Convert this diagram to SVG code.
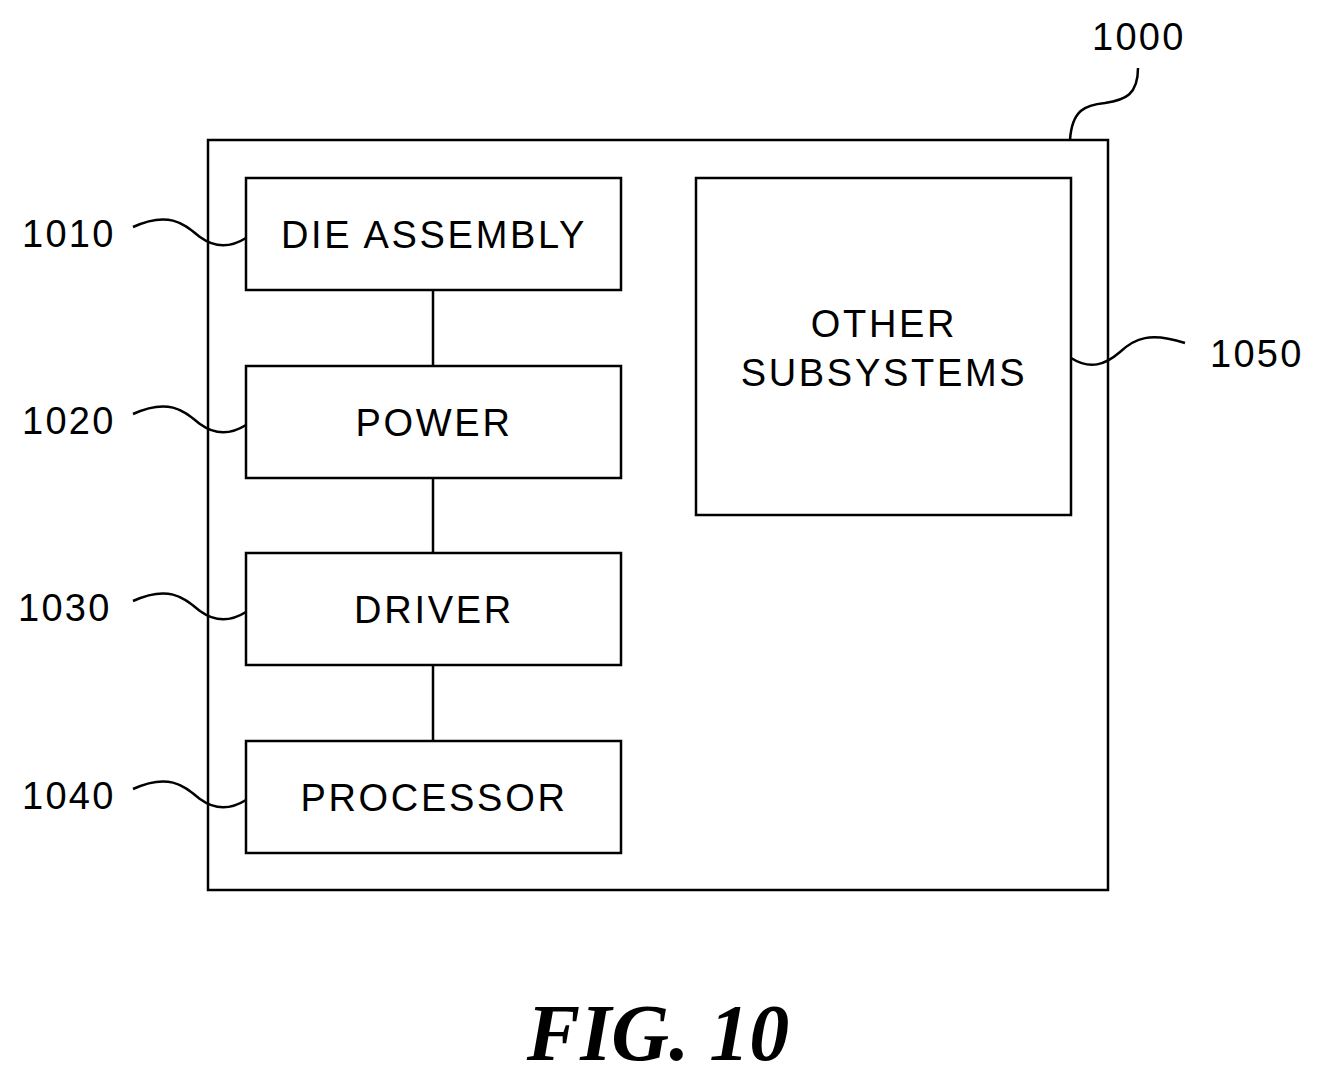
<svg xmlns="http://www.w3.org/2000/svg" width="1319" height="1084" viewBox="0 0 1319 1084">
<style>
.b{fill:#fff;stroke:#000;stroke-width:2.5}
.t{font-family:"Liberation Sans",Arial,sans-serif;font-size:38px;text-anchor:middle;fill:#000;letter-spacing:2.7px}
.r{font-family:"Liberation Sans",Arial,sans-serif;font-size:38px;fill:#000;letter-spacing:2.3px}
.l{fill:none;stroke:#000;stroke-width:2.5}
</style>
<rect width="1319" height="1084" fill="#fff"/>
<g id="n1000"><rect class="b" x="208" y="140" width="900" height="750"/><text class="r" x="1092" y="50">1000</text></g>
<g id="connectors">
<path class="l" d="M433 290V366M433 478V553M433 665V741"/>
<path class="l" d="M1070 140C1072 110 1085 105 1105 103C1125 100 1138 95 1138 68"/>
<path class="l" d="M133 227C170 210 185 225 200 237C215 248 230 248 246 238"/>
<path class="l" d="M133 414C170 397 185 412 200 424C215 435 230 435 246 425"/>
<path class="l" d="M133 601C170 584 185 599 200 611C215 622 230 622 246 612"/>
<path class="l" d="M133 789C170 772 185 787 200 799C215 810 230 810 246 800"/>
<path class="l" d="M1071 358C1090 370 1105 365 1120 352C1135 338 1150 332 1185 343"/>
</g>
<g id="n1010"><rect class="b" x="246" y="178" width="375" height="112"/><text class="t" x="434" y="248">DIE ASSEMBLY</text><text class="r" x="22" y="247">1010</text></g>
<g id="n1020"><rect class="b" x="246" y="366" width="375" height="112"/><text class="t" x="434" y="436">POWER</text><text class="r" x="22" y="434">1020</text></g>
<g id="n1030"><rect class="b" x="246" y="553" width="375" height="112"/><text class="t" x="434" y="623">DRIVER</text><text class="r" x="18" y="621">1030</text></g>
<g id="n1040"><rect class="b" x="246" y="741" width="375" height="112"/><text class="t" x="434" y="811">PROCESSOR</text><text class="r" x="22" y="809">1040</text></g>
<g id="n1050"><rect class="b" x="696" y="178" width="375" height="337"/><text class="t" x="884" y="337">OTHER</text><text class="t" x="884" y="386">SUBSYSTEMS</text><text class="r" x="1210" y="367">1050</text></g>
<text x="658" y="1060" font-family="Liberation Serif,serif" font-size="80" font-weight="bold" font-style="italic" text-anchor="middle">FIG. 10</text>
</svg>
